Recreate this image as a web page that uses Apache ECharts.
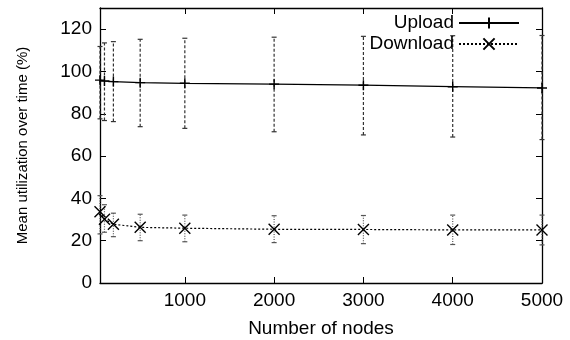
<!DOCTYPE html>
<html>
<head>
<meta charset="utf-8">
<script src="https://cdn.jsdelivr.net/npm/echarts@6/dist/echarts.min.js"></script>
<style>html,body{margin:0;padding:0;background:#fff}#c{width:570px;height:340px}</style>
</head>
<body>
<div id="c"></div>
<script>
const nodes = [50, 100, 200, 500, 1000, 2000, 3000, 4000, 5000];
const uploadMean = [95.9, 95.5, 95.2, 94.7, 94.4, 94.0, 93.5, 92.8, 92.2];
const uploadLow  = [77.6, 76.8, 76.3, 73.9, 73.1, 71.5, 70.0, 69.0, 67.8];
const uploadHigh = [111.8, 113.5, 114.1, 115.2, 115.7, 116.2, 116.6, 116.9, 117.0];
const downloadMean = [33.7, 30.1, 27.8, 26.3, 25.9, 25.4, 25.3, 25.1, 25.1];
const downloadLow  = [23.2, 24.0, 21.9, 20.0, 19.5, 19.1, 18.6, 18.2, 18.0];
const downloadHigh = [41.3, 37.0, 33.0, 32.5, 32.1, 31.8, 31.9, 32.1, 32.1];
const xTicks = [1000, 2000, 3000, 4000, 5000];
const yTicks = [0, 20, 40, 60, 80, 100, 120];

const FONT = 'Liberation Sans';
const FS = 19;

function errBars(lo, hi) { return nodes.map((x, i) => [x, lo[i], hi[i]]); }
function makeRender(dash, color) {
  return function (params, api) {
    const x = api.value(0), lo = api.value(1), hi = api.value(2);
    const p1 = api.coord([x, lo]), p2 = api.coord([x, hi]);
    const c = 2.5;
    const st = { stroke: color, lineWidth: 1.2, lineDash: dash, fill: null };
    const stc = { stroke: color, lineWidth: 1.2, fill: null };
    return { type: 'group', children: [
      { type: 'line', shape: { x1: p1[0], y1: p1[1], x2: p2[0], y2: p2[1] }, style: st },
      { type: 'line', shape: { x1: p1[0] - c, y1: p1[1], x2: p1[0] + c, y2: p1[1] }, style: stc },
      { type: 'line', shape: { x1: p2[0] - c, y1: p2[1], x2: p2[0] + c, y2: p2[1] }, style: stc }
    ]};
  };
}

const axisCommon = {
  axisLine: { show: true, onZero: false, lineStyle: { color: '#000', width: 1.3 } },
  splitLine: { show: false }
};

const chart = echarts.init(document.getElementById('c'), null, { renderer: 'canvas' });
chart.setOption({
  animation: false,
  backgroundColor: '#fff',
  textStyle: { fontFamily: FONT },
  grid: { left: 100, right: 28, top: 8, bottom: 57, containLabel: false, outerBoundsMode: 'none' },
  legend: {
    orient: 'vertical', right: 45, top: 8, align: 'right',
    itemWidth: 60, itemHeight: 14, itemGap: 1,
    textStyle: { fontFamily: FONT, fontSize: FS, color: '#000', lineHeight: 20 },
    data: ['Upload', 'Download']
  },
  xAxis: [
    Object.assign({}, axisCommon, {
      type: 'value', min: 50, max: 5000, position: 'bottom',
      name: 'Number of nodes', nameLocation: 'middle', nameGap: 36,
      nameTextStyle: { fontFamily: FONT, fontSize: FS, color: '#000' },
      axisTick: { show: true, inside: true, length: 6, customValues: xTicks, lineStyle: { color: '#000' } },
      axisLabel: { show: true, customValues: xTicks, margin: 8, fontFamily: FONT, fontSize: FS, color: '#000',
        formatter: v => String(v) }
    }),
    Object.assign({}, axisCommon, {
      type: 'value', min: 50, max: 5000, position: 'top',
      axisTick: { show: true, inside: true, length: 6, customValues: xTicks, lineStyle: { color: '#000' } },
      axisLabel: { show: false }
    })
  ],
  yAxis: [
    Object.assign({}, axisCommon, {
      type: 'value', min: 0, max: 130, position: 'left',
      name: 'Mean utilization over time (%)', nameLocation: 'middle', nameGap: 70,
      nameTextStyle: { fontFamily: FONT, fontSize: 15, color: '#000' },
      axisTick: { show: true, inside: true, length: 6, customValues: yTicks, lineStyle: { color: '#000' } },
      axisLabel: { show: true, customValues: yTicks, margin: 8, fontFamily: FONT, fontSize: FS, color: '#000',
        formatter: v => String(v) }
    }),
    Object.assign({}, axisCommon, {
      type: 'value', min: 0, max: 130, position: 'right',
      axisTick: { show: true, inside: true, length: 6, customValues: yTicks, lineStyle: { color: '#000' } },
      axisLabel: { show: false }
    })
  ],
  series: [
    {
      type: 'custom', name: 'UploadErr', renderItem: makeRender([3, 2], '#333'),
      data: errBars(uploadLow, uploadHigh), encode: { x: 0, y: [1, 2] }, clip: false, z: 1, silent: true
    },
    {
      type: 'custom', name: 'DownloadErr', renderItem: makeRender([1, 1.5], '#555'),
      data: errBars(downloadLow, downloadHigh), encode: { x: 0, y: [1, 2] }, clip: false, z: 1, silent: true
    },
    {
      type: 'line', name: 'Upload', data: nodes.map((x, i) => [x, uploadMean[i]]),
      symbol: 'path://M0,5L10,5M5,0L5,10', symbolSize: 10, showAllSymbol: true,
      lineStyle: { color: '#000', width: 1.2, type: 'solid' },
      itemStyle: { color: '#000', borderColor: '#000', borderWidth: 1.4 },
      z: 3, clip: false
    },
    {
      type: 'line', name: 'Download', data: nodes.map((x, i) => [x, downloadMean[i]]),
      symbol: 'path://M0,0L10,10M0,10L10,0', symbolSize: 11, showAllSymbol: true,
      lineStyle: { color: '#000', width: 1.2, type: [2, 2] },
      itemStyle: { color: '#000', borderColor: '#000', borderWidth: 1.4 },
      z: 3, clip: false
    }
  ]
});
</script>
</body>
</html>
